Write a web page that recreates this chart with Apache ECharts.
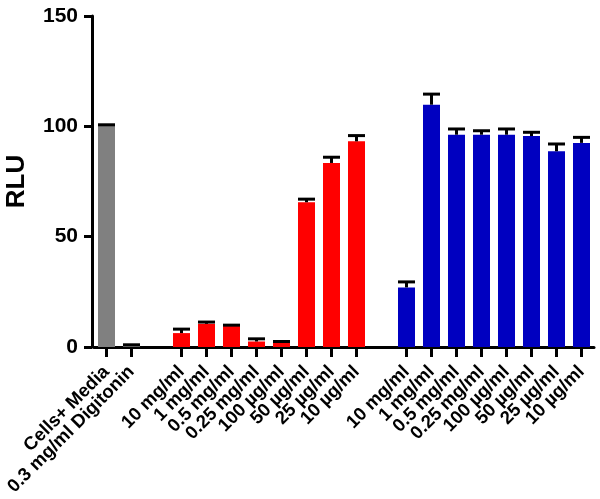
<!DOCTYPE html>
<html>
<head>
<meta charset="utf-8">
<script src="https://cdn.jsdelivr.net/npm/echarts@6/dist/echarts.min.js"></script>
<style>
  html, body { margin: 0; padding: 0; background: #fff; }
  #chart { width: 600px; height: 499px; }
</style>
</head>
<body>
<div id="chart"></div>
<script>
// ---- data ----
const categories = [
  'Cells+ Media', '0.3 mg/ml Digitonin', '',
  '10 mg/ml', '1 mg/ml', '0.5 mg/ml', '0.25 mg/ml', '100 µg/ml', '50 µg/ml', '25 µg/ml', '10 µg/ml', '',
  '10 mg/ml', '1 mg/ml', '0.5 mg/ml', '0.25 mg/ml', '100 µg/ml', '50 µg/ml', '25 µg/ml', '10 µg/ml'
];
const values = [
  100.3, 0.6, null,
  6.3, 10.5, 9.5, 2.5, 2.1, 65.6, 83.4, 93.2, null,
  27.0, 109.8, 96.2, 96.2, 96.2, 95.6, 88.7, 92.5
];
const errors = [
  0.4, 0.4, null,
  1.8, 0.8, 0.4, 1.2, 0.4, 1.4, 2.6, 2.6, null,
  2.5, 4.8, 2.6, 1.8, 2.6, 1.7, 3.3, 2.5
];
const groups = [
  'control', 'control', null,
  'red', 'red', 'red', 'red', 'red', 'red', 'red', 'red', null,
  'blue', 'blue', 'blue', 'blue', 'blue', 'blue', 'blue', 'blue'
];
const yTicks = [0, 50, 100, 150];
const yName = 'RLU';

// ---- styles ----
const groupColors = { control: '#808080', red: '#FF0000', blue: '#0000C0' };
const FONT = '"Liberation Sans", Arial, sans-serif';

const barData = values.map((v, i) => v == null ? '-' : {
  value: v,
  itemStyle: { color: groupColors[groups[i]] }
});
const errData = values.map((v, i) => v == null ? null : [i, v, errors[i]]).filter(d => d);

const chart = echarts.init(document.getElementById('chart'), null, { renderer: 'canvas' });
chart.setOption({
  animation: false,
  backgroundColor: '#ffffff',
  grid: { left: 94, right: 6, top: 16, bottom: 152, containLabel: false, outerBoundsMode: 'none' },
  xAxis: {
    type: 'category',
    data: categories,
    axisLine: { show: true, lineStyle: { color: '#000', width: 3 } },
    axisTick: {
      show: true, alignWithLabel: true, length: 10, inside: false,
      lineStyle: { color: '#000', width: 3 },
      interval: (idx, val) => val !== ''
    },
    axisLabel: {
      interval: 0, rotate: 45, margin: 22,
      color: '#000', fontFamily: FONT, fontWeight: 'bold', fontSize: 18.5
    },
    splitLine: { show: false }
  },
  yAxis: {
    type: 'value',
    min: yTicks[0], max: yTicks[yTicks.length - 1], interval: 50,
    offset: 2,
    name: yName, nameLocation: 'middle', nameGap: 62, nameRotate: 90,
    nameTextStyle: { color: '#000', fontFamily: FONT, fontWeight: 'bold', fontSize: 26 },
    axisLine: { show: true, lineStyle: { color: '#000', width: 3 } },
    axisTick: { show: true, length: 8, lineStyle: { color: '#000', width: 3 } },
    axisLabel: { margin: 14, color: '#000', fontFamily: FONT, fontWeight: 'bold', fontSize: 21 },
    splitLine: { show: false }
  },
  series: [
    {
      type: 'bar',
      data: barData,
      barWidth: 17,
      z: 2
    },
    {
      type: 'custom',
      data: errData,
      encode: { x: 0, y: 1 },
      z: 3,
      renderItem: function (params, api) {
        const i = api.value(0);
        const v = api.value(1);
        const e = api.value(2);
        const base = api.coord([i, v]);
        const top = api.coord([i, v + e]);
        const half = 8.5;
        const style = { stroke: '#000', lineWidth: 3 };
        return {
          type: 'group',
          children: [
            { type: 'line', shape: { x1: base[0], y1: base[1], x2: top[0], y2: top[1] }, style: style },
            { type: 'line', shape: { x1: top[0] - half, y1: top[1], x2: top[0] + half, y2: top[1] }, style: style }
          ]
        };
      }
    }
  ]
});
</script>
</body>
</html>
